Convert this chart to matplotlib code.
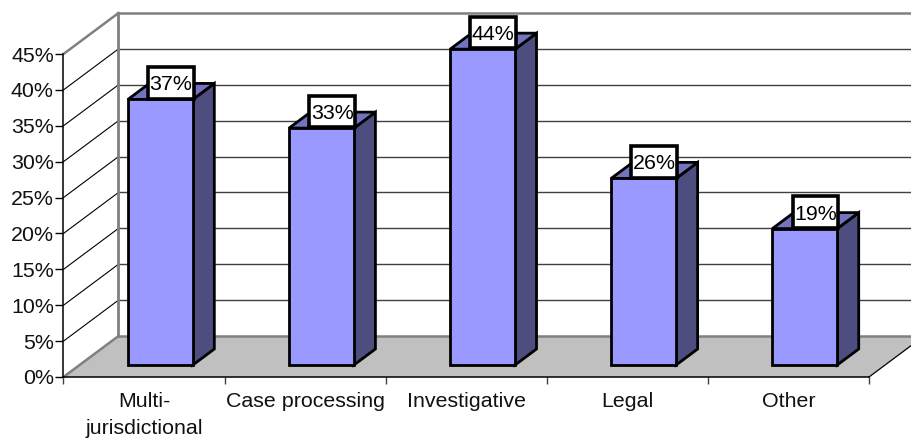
import matplotlib
matplotlib.use("Agg")
import matplotlib.pyplot as plt
from matplotlib.patches import Polygon, Rectangle

plt.rcParams['font.family'] = ['Liberation Sans', 'DejaVu Sans']

categories = ["Multi-\njurisdictional", "Case processing", "Investigative", "Legal", "Other"]
values = [37, 33, 44, 26, 19]
value_labels = ["37%", "33%", "44%", "26%", "19%"]
y_ticks = [0, 5, 10, 15, 20, 25, 30, 35, 40, 45]
y_tick_labels = [f"{v}%" for v in y_ticks]

W, H = 912, 438
LEFT, RIGHT, BASE, TOP45 = 63.5, 869.0, 377.0, 54.0
PX_X = (RIGHT - LEFT) / len(categories)
PX_Y = (BASE - TOP45) / 45
FONT = 15.4

# oblique projection: full depth of the chart box in axis units
DEPTH_X = 55 / PX_X
DEPTH_Y = 41 / PX_Y
BAR_START, BAR_WIDTH = 0.30, 0.403
DEPTH_FRONT, DEPTH_BACK = 0.293, 0.683

FRONT = "#9999FF"
SIDE = "#4D4D80"
CAP = "#7373BF"
FLOOR = "#C0C0C0"
WALL_EDGE = "#808080"


def project(x, y, d):
    return (x + d * DEPTH_X, y + d * DEPTH_Y)


fig = plt.figure(figsize=(W / 100, H / 100), dpi=100, facecolor="white")
ax = fig.add_axes([LEFT / W, (H - BASE) / H, (RIGHT - LEFT) / W, (BASE - TOP45) / H])
ax.set_xlim(0, len(categories))
ax.set_ylim(0, 45)
ax.patch.set_visible(False)
for side in ("top", "right"):
    ax.spines[side].set_visible(False)
for side in ("left", "bottom"):
    ax.spines[side].set_linewidth(1.1)
    ax.spines[side].set_color("black")
    ax.spines[side].set_zorder(6)

n = len(categories)
far = n + 1

# floor and back wall
ax.add_patch(Polygon([project(0, 0, 0), project(n, 0, 0), project(n, 0, 1), project(0, 0, 1)],
                     closed=True, fc=FLOOR, ec="none", clip_on=False, zorder=1))

# gridlines on the back and side walls
for v in y_ticks[1:-1]:
    ax.plot(*zip(project(0, v, 1), project(far, v, 1)), color="#404040", lw=1.0,
            clip_on=False, zorder=2)
for v in y_ticks[1:-1]:
    ax.plot(*zip(project(0, v, 0), project(0, v, 1)), color="black", lw=0.8,
            clip_on=False, zorder=2)

# wall outlines
ax.plot(*zip(project(0, 0, 1), project(0, 45, 1)), color=WALL_EDGE, lw=2.0, clip_on=False, zorder=3)
ax.plot(*zip(project(0, 45, 1), project(far, 45, 1)), color=WALL_EDGE, lw=1.8, clip_on=False, zorder=3)
ax.plot(*zip(project(0, 0, 1), project(far, 0, 1)), color=WALL_EDGE, lw=1.8, clip_on=False, zorder=3)
ax.plot(*zip(project(0, 0, 0), project(0, 0, 1)), color=WALL_EDGE, lw=1.8, clip_on=False, zorder=3)
ax.plot(*zip(project(0, 45, 0), project(0, 45, 1)), color=WALL_EDGE, lw=1.8, clip_on=False, zorder=3)
ax.plot(*zip(project(n, 0, 0), project(n, 0, 1)), color="black", lw=0.9, clip_on=False, zorder=3)

# three visible faces of each bar
for i, v in enumerate(values):
    x0 = i + BAR_START
    x1 = x0 + BAR_WIDTH
    faces = [
        ([project(x1, 0, DEPTH_FRONT), project(x1, 0, DEPTH_BACK),
          project(x1, v, DEPTH_BACK), project(x1, v, DEPTH_FRONT)], SIDE),
        ([project(x0, v, DEPTH_FRONT), project(x1, v, DEPTH_FRONT),
          project(x1, v, DEPTH_BACK), project(x0, v, DEPTH_BACK)], CAP),
        ([project(x0, 0, DEPTH_FRONT), project(x1, 0, DEPTH_FRONT),
          project(x1, v, DEPTH_FRONT), project(x0, v, DEPTH_FRONT)], FRONT),
    ]
    for pts, color in faces:
        ax.add_patch(Polygon(pts, closed=True, fc=color, ec="black", lw=2.0,
                             joinstyle="miter", clip_on=False, zorder=4))

# boxed value labels above the bars
for i, (v, label) in enumerate(zip(values, value_labels)):
    fx, fy = project(i + BAR_START, v, DEPTH_FRONT)
    cx = fx + 43 / PX_X
    cy = fy + 16.5 / PX_Y
    bw, bh = 45.5 / PX_X, 31.5 / PX_Y
    ax.add_patch(Rectangle((cx - bw / 2, cy - bh / 2), bw, bh, fc="white", ec="black", lw=2.6,
                           joinstyle="miter", clip_on=False, zorder=7))
    ax.text(cx, cy, label, ha="center", va="center_baseline", fontsize=FONT,
            color="black", zorder=8, clip_on=False)

ax.set_yticks(y_ticks, y_tick_labels, fontsize=FONT, color="#111111")
ax.set_xticks(range(n + 1))
ax.set_xticklabels([])
ax.tick_params(axis="y", length=5.5, width=1.0, pad=1.5)
ax.tick_params(axis="x", length=5, width=1.0, color="#404040")
ax.spines["bottom"].set_bounds(0, n)

# category names sit between the ticks
for i, name in enumerate(categories):
    ax.annotate(name, xy=(i + 0.5, 0), xycoords="data", xytext=(0, -10.5), textcoords="offset points",
                ha="center", va="top", fontsize=FONT, color="#111111", linespacing=1.55,
                annotation_clip=False)

fig.savefig("out.png", dpi=100, facecolor="white")
